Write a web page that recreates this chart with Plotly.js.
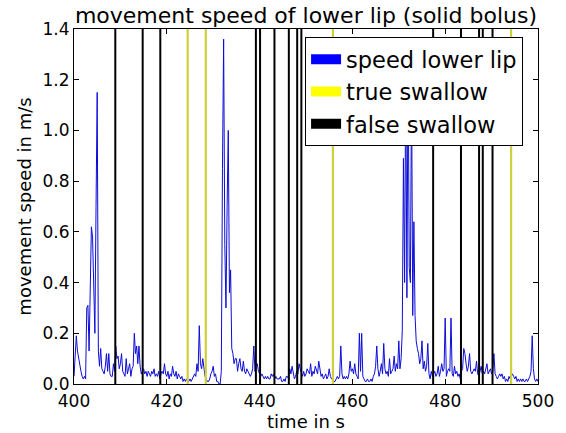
<!DOCTYPE html>
<html>
<head>
<meta charset="utf-8">
<script src="https://cdn.plot.ly/plotly-3.0.1.min.js"></script>
<style>html,body{margin:0;padding:0;background:#fff;}#chart{width:566px;height:433px;}</style>
</head>
<body>
<div id="chart"></div>
<script>
// time axis: 400 s to 500 s, one sample every 0.25 s
var tStart = 400;
var tStep = 0.25;
// movement speed of lower lip in m/s
var speedLowerLip = [
0.03,0.12,0.19,0.13, 0.10,0.08,0.05,0.03, 0.02,0.03,0.02,0.30, 0.31,0.13,0.36,0.62,
0.58,0.34,0.20,0.70, 1.15,0.13,0.07,0.14, 0.06,0.05,0.04,0.07, 0.12,0.05,0.12,0.04,
0.03,0.03,0.08,0.05, 0.15,0.10,0.11,0.06, 0.08,0.12,0.05,0.04, 0.03,0.10,0.04,0.06,
0.08,0.03,0.06,0.07, 0.20,0.12,0.15,0.08, 0.15,0.07,0.04,0.05, 0.06,0.04,0.05,0.03,
0.05,0.04,0.03,0.05, 0.04,0.06,0.03,0.04, 0.03,0.05,0.02,0.04, 0.05,0.04,0.08,0.04,
0.03,0.05,0.02,0.04, 0.03,0.07,0.04,0.03, 0.05,0.02,0.04,0.03, 0.02,0.03,0.01,0.02,
0.01,0.02,0.01,0.01, 0.02,0.01,0.02,0.03, 0.04,0.03,0.08,0.05, 0.23,0.08,0.06,0.10,
0.07,0.03,0.02,0.01, 0.01,0.02,0.04,0.05, 0.07,0.03,0.04,0.01, 0.01,0.00,0.00,0.05,
0.85,1.36,0.55,0.30, 0.70,1.00,0.36,0.45, 0.14,0.12,0.08,0.10, 0.10,0.05,0.08,0.10,
0.06,0.05,0.09,0.05, 0.04,0.06,0.05,0.04, 0.03,0.04,0.06,0.15, 0.05,0.08,0.08,0.05,
0.04,0.03,0.04,0.03, 0.02,0.03,0.02,0.03, 0.02,0.02,0.04,0.03, 0.04,0.02,0.03,0.02,
0.02,0.02,0.03,0.01, 0.01,0.02,0.01,0.03, 0.03,0.02,0.06,0.04, 0.07,0.05,0.02,0.03,
0.05,0.04,0.08,0.06, 0.04,0.03,0.05,0.03, 0.04,0.06,0.05,0.04, 0.08,0.03,0.05,0.04,
0.07,0.05,0.04,0.09, 0.05,0.03,0.04,0.02, 0.03,0.04,0.02,0.03, 0.06,0.03,0.02,0.02,
0.01,0.01,0.02,0.03, 0.02,0.03,0.15,0.04, 0.02,0.03,0.02,0.03, 0.02,0.04,0.09,0.05,
0.06,0.04,0.08,0.04, 0.03,0.02,0.20,0.05, 0.20,0.03,0.02,0.01, 0.01,0.02,0.01,0.01,
0.02,0.01,0.03,0.04, 0.07,0.15,0.06,0.03, 0.05,0.08,0.04,0.16, 0.06,0.04,0.05,0.03,
0.10,0.04,0.05,0.06, 0.11,0.05,0.08,0.06, 0.17,0.06,0.10,0.21, 0.89,0.40,1.25,0.34,
1.30,0.46,0.40,1.20, 0.27,0.64,0.27,0.17, 0.14,0.12,0.08,0.10, 0.17,0.06,0.09,0.05,
0.07,0.16,0.04,0.02, 0.05,0.03,0.04,0.05, 0.03,0.04,0.07,0.03, 0.05,0.08,0.05,0.06,
0.26,0.03,0.05,0.06, 0.05,0.26,0.04,0.03, 0.07,0.04,0.05,0.03, 0.04,0.02,0.05,0.06,
0.14,0.12,0.08,0.05, 0.07,0.12,0.05,0.04, 0.05,0.06,0.05,0.09, 0.04,0.03,0.05,0.07,
0.04,0.05,0.04,0.06, 0.08,0.04,0.05,0.06, 0.04,0.05,0.12,0.04, 0.03,0.02,0.03,0.04,
0.03,0.04,0.02,0.03, 0.01,0.02,0.01,0.03, 0.02,0.03,0.04,0.03, 0.02,0.03,0.01,0.02,
0.01,0.02,0.01,0.02, 0.01,0.01,0.02,0.01, 0.02,0.03,0.05,0.19, 0.06,0.02,0.01,0.02,
0.01
];
// swallow event times in s
var trueSwallow = [424.5, 428.4, 455.8, 494.2];
var falseSwallow = [408.9, 414.8, 418.6, 439.2, 440.1, 443.2, 446.3, 448.1, 449.0,
                    477.4, 483.4, 487.3, 488.1, 490.2];
var xTicks = [400, 420, 440, 460, 480, 500];
var yTicks = [0.0, 0.2, 0.4, 0.6, 0.8, 1.0, 1.2, 1.4];
var legendNames = ['speed lower lip', 'true swallow', 'false swallow'];

var timeS = speedLowerLip.map(function (v, i) { return tStart + i * tStep; });

var FONT = 'DejaVu Sans, sans-serif';
var BLUE = '#0c0cd8';
var YELLOW_LINE = '#cfcf3a';
var YELLOW_PATCH = '#ffff00';
var BLACK = '#000000';

var traces = [
  {x: timeS, y: speedLowerLip, type: 'scatter', mode: 'lines',
   line: {color: BLUE, width: 1}, showlegend: false, hoverinfo: 'skip'},
  {x: [null], y: [null], type: 'scatter', mode: 'lines', name: legendNames[0],
   line: {color: '#0000ff', width: 10}},
  {x: [null], y: [null], type: 'scatter', mode: 'lines', name: legendNames[1],
   line: {color: YELLOW_PATCH, width: 10}},
  {x: [null], y: [null], type: 'scatter', mode: 'lines', name: legendNames[2],
   line: {color: BLACK, width: 10}}
];

var shapes = [];
trueSwallow.forEach(function (t) {
  shapes.push({type: 'line', xref: 'x', yref: 'paper', x0: t, x1: t, y0: 0, y1: 1,
               line: {color: YELLOW_LINE, width: 2.2}, layer: 'above'});
});
falseSwallow.forEach(function (t) {
  shapes.push({type: 'line', xref: 'x', yref: 'paper', x0: t, x1: t, y0: 0, y1: 1,
               line: {color: BLACK, width: 2}, layer: 'above'});
});

var axisCommon = {
  showgrid: false, zeroline: false, showline: true, linecolor: BLACK, linewidth: 1,
  mirror: 'allticks', ticks: 'inside', ticklen: 5, tickcolor: BLACK, tickwidth: 1,
  tickfont: {family: FONT, size: 17, color: BLACK}
};

var layout = {
  width: 566, height: 433,
  margin: {l: 74, r: 28, t: 29, b: 49, pad: 0},
  paper_bgcolor: '#ffffff', plot_bgcolor: '#ffffff',
  font: {family: FONT, color: BLACK},
  title: {text: 'movement speed of lower lip (solid bolus)', font: {family: FONT, size: 22, color: BLACK},
          x: 0.5, xref: 'paper', y: 0.965, yref: 'container', yanchor: 'middle'},
  xaxis: Object.assign({}, axisCommon, {
    range: [400, 500], tickvals: xTicks, ticktext: xTicks.map(String), ticklabelstandoff: 2,
    title: {text: 'time in s', font: {family: FONT, size: 18, color: BLACK}, standoff: 4}
  }),
  yaxis: Object.assign({}, axisCommon, {
    range: [0, 1.4], tickvals: yTicks, ticktext: yTicks.map(function (v) { return v.toFixed(1); }),
    title: {text: 'movement speed in m/s', font: {family: FONT, size: 18, color: BLACK}, standoff: 6}
  }),
  shapes: shapes,
  legend: {x: 0.498, y: 0.977, xanchor: 'left', yanchor: 'top', bgcolor: '#ffffff',
           bordercolor: BLACK, borderwidth: 1, font: {family: FONT, size: 22.5, color: BLACK},
           itemwidth: 30, tracegroupgap: 0},
  showlegend: true
};

Plotly.newPlot('chart', traces, layout, {staticPlot: true, displayModeBar: false});
</script>
</body>
</html>
